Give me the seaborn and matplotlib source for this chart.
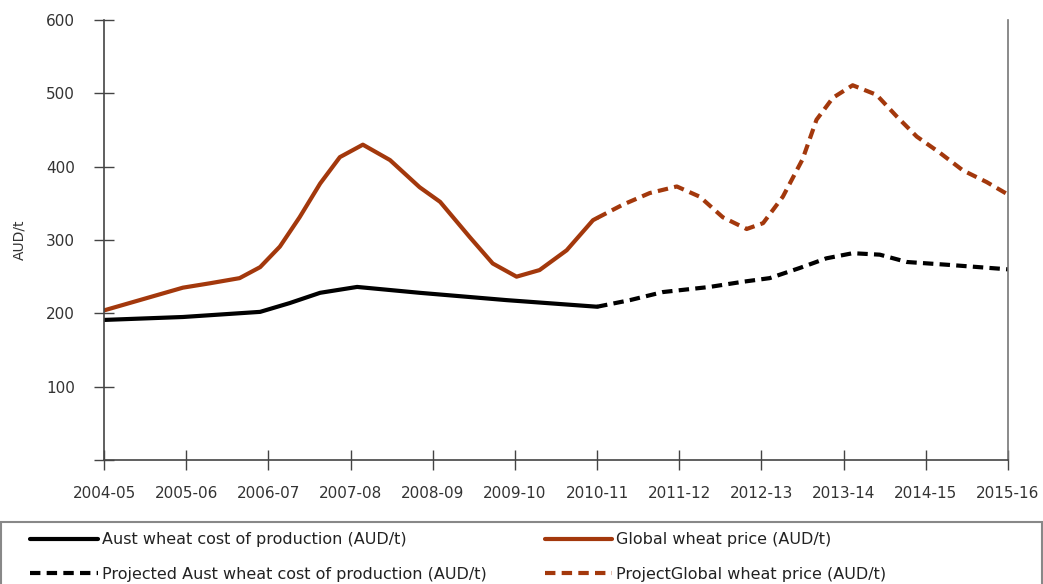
import matplotlib
matplotlib.use("Agg")
import matplotlib.pyplot as plt
from matplotlib.patches import Rectangle
import seaborn as sns

periods = ["2004-05", "2005-06", "2006-07", "2007-08", "2008-09", "2009-10",
           "2010-11", "2011-12", "2012-13", "2013-14", "2014-15", "2015-16"]

# Aust wheat cost of production (AUD/t), historical
cost_pos = [0.00, 0.96, 1.90, 2.26, 2.63, 3.08, 3.84, 4.90, 6.00]
cost_val = [191, 195, 202, 214, 228, 236, 228, 218, 209]

# Projected Aust wheat cost of production (AUD/t)
proj_cost_pos = [6.00, 6.40, 6.80, 7.37, 7.77, 8.10, 8.47, 8.79, 9.11, 9.44, 9.77, 10.29, 11.00]
proj_cost_val = [209, 218, 229, 236, 243, 248, 262, 275, 282, 280, 270, 266, 260]

# Global wheat price (AUD/t), historical
price_pos = [0.00, 0.96, 1.29, 1.65, 1.90, 2.14, 2.38, 2.63, 2.87, 3.15, 3.48, 3.84,
             4.09, 4.45, 4.73, 5.02, 5.30, 5.63, 5.95, 6.00]
price_val = [204, 235, 241, 248, 263, 291, 331, 377, 413, 430, 409, 372,
             352, 304, 268, 250, 259, 286, 327, 330]

# Projected global wheat price (AUD/t)
proj_price_pos = [6.00, 6.31, 6.64, 6.97, 7.25, 7.53, 7.82, 8.02, 8.26, 8.50, 8.67, 8.87,
                  9.11, 9.40, 9.65, 9.89, 10.17, 10.45, 10.74, 11.00]
proj_price_val = [330, 348, 364, 373, 359, 331, 315, 323, 359, 410, 464, 494,
                  511, 498, 468, 441, 419, 395, 379, 362]

y_ticks = [0, 100, 200, 300, 400, 500, 600]

sns.set_style("ticks")
plt.rcParams["font.family"] = ["DejaVu Sans"]

RUST = "#A3380C"
TXT = "#333333"

fig = plt.figure(figsize=(10.43, 5.84), dpi=100)
ax = fig.add_axes([104 / 1043, 1 - 460 / 584, (1008 - 104) / 1043, 440 / 584])

dash = (0, (2.5, 1.5))
lw = 3.0
sns.lineplot(x=cost_pos, y=cost_val, ax=ax, color="black", lw=lw, sort=False,
             label="Aust wheat cost of production (AUD/t)", solid_capstyle="round",
             solid_joinstyle="round")
sns.lineplot(x=proj_cost_pos, y=proj_cost_val, ax=ax, color="black", lw=lw, sort=False,
             linestyle=dash, label="Projected Aust wheat cost of production (AUD/t)")
sns.lineplot(x=price_pos, y=price_val, ax=ax, color=RUST, lw=lw, sort=False,
             label="Global wheat price (AUD/t)", solid_capstyle="round",
             solid_joinstyle="round")
sns.lineplot(x=proj_price_pos, y=proj_price_val, ax=ax, color=RUST, lw=lw, sort=False,
             linestyle=dash, label="ProjectGlobal wheat price (AUD/t)")

ax.set_xlim(0, len(periods) - 1)
ax.set_ylim(0, 600)
ax.set_xticks(range(len(periods)))
ax.set_xticklabels(periods, fontsize=11, color=TXT)
ax.set_yticks(y_ticks)
ax.set_yticklabels(["" if v == 0 else str(v) for v in y_ticks], fontsize=11, color=TXT)
ax.tick_params(axis="both", direction="inout", length=14, width=1, color="#444444")
ax.tick_params(axis="x", pad=12)
ax.tick_params(axis="y", pad=14)
ax.set_ylabel("AUD/t", fontsize=10, color=TXT, labelpad=14)
ax.set_xlabel("")

for side in ["left", "bottom", "right"]:
    ax.spines[side].set_visible(True)
    ax.spines[side].set_color("#444444")
    ax.spines[side].set_linewidth(1.2)
ax.spines["right"].set_color("#777777")
ax.spines["top"].set_visible(False)

handles, labels = ax.get_legend_handles_labels()
ax.get_legend().remove()
fig.legend(handles, labels, ncol=2, loc="upper left", frameon=False,
           bbox_to_anchor=(24 / 1043, 1 - 526 / 584), fontsize=11.5,
           handlelength=4.25, handletextpad=0.25, labelspacing=1.2,
           columnspacing=3.6, labelcolor="#222222", borderaxespad=0)
fig.patches.append(Rectangle((0.001, -0.01), 0.998, 0.01 + 1 - 522 / 584,
                             transform=fig.transFigure, fill=False,
                             edgecolor="#888888", lw=1.5))

fig.savefig("out.png", dpi=100)
